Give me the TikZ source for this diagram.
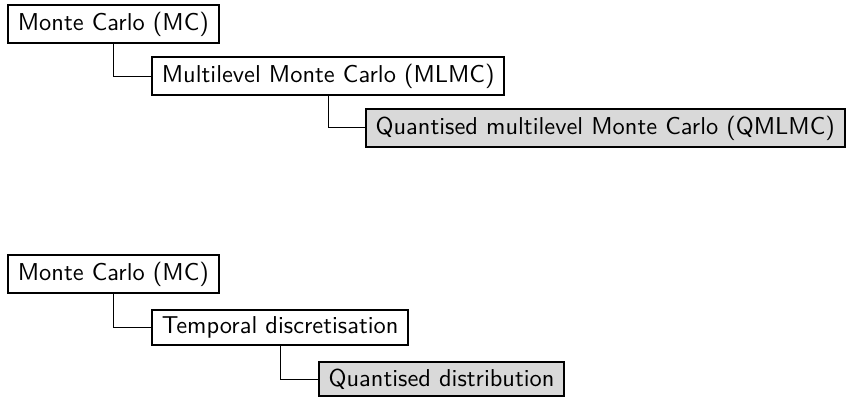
\documentclass[tikz,border=0pt]{standalone}
\usetikzlibrary{positioning}
\begin{document}
\begin{tikzpicture}[
    every node/.style={font=\sffamily},
    stage/.style={draw, thick, fill=white, inner xsep=4.05pt, inner ysep=2.8pt},
    newstage/.style={stage, fill=black!15},
    branch/.style={thin}
]
    \useasboundingbox (0,0) rectangle (347.5pt,-163.9pt);
    % first tree
    \node[stage, anchor=north west] (mc) at (2.87pt,-1.64pt) {Monte Carlo (MC)};
    \node[stage, below right=4.9pt and 15.4pt of mc.south] (mlmc) {Multilevel Monte Carlo (MLMC)};
    \node[newstage, below right=4.9pt and 15pt of mlmc.south] (qmlmc) {Quantised multilevel Monte Carlo (QMLMC)};
    \draw[branch] (mc.south) |- (mlmc.west);
    \draw[branch] (mlmc.south) |- (qmlmc.west);
    % second tree
    \node[stage, anchor=north west] (mcb) at (2.87pt,-104.1pt) {Monte Carlo (MC)};
    \node[stage, below right=6.1pt and 15.4pt of mcb.south] (temp) {Temporal discretisation};
    \node[newstage, below right=6.1pt and 15.4pt of temp.south] (quant) {Quantised distribution};
    \draw[branch] (mcb.south) |- (temp.west);
    \draw[branch] (temp.south) |- (quant.west);
\end{tikzpicture}
\end{document}
